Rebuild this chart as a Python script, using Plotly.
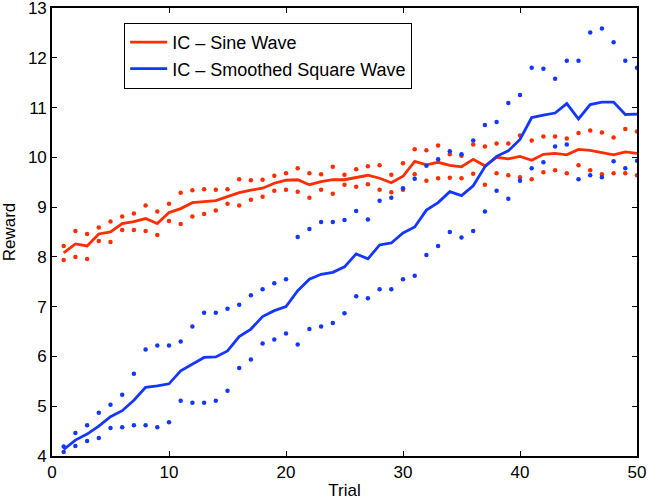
import plotly.graph_objects as go

trials = list(range(1, 51))

red_mean = [8.08, 8.26, 8.22, 8.46, 8.50, 8.67, 8.71, 8.77, 8.67, 8.89,
            8.97, 9.09, 9.11, 9.13, 9.21, 9.29, 9.34, 9.38, 9.48, 9.54,
            9.55, 9.45, 9.51, 9.55, 9.55, 9.59, 9.64, 9.58, 9.49, 9.62,
            9.92, 9.85, 9.90, 9.84, 9.81, 9.96, 9.83, 10.00, 9.97, 10.02,
            9.94, 10.06, 10.08, 10.05, 10.16, 10.14, 10.09, 10.05, 10.11, 10.08]
red_upper = [8.22, 8.52, 8.46, 8.59, 8.71, 8.81, 8.87, 9.03, 8.91, 9.07,
             9.29, 9.34, 9.36, 9.35, 9.36, 9.56, 9.54, 9.55, 9.63, 9.68,
             9.78, 9.68, 9.66, 9.81, 9.65, 9.76, 9.82, 9.84, 9.65, 9.88,
             10.16, 10.14, 10.24, 10.06, 10.03, 10.26, 10.22, 10.28, 10.28, 10.44,
             10.34, 10.42, 10.42, 10.38, 10.49, 10.54, 10.50, 10.40, 10.57, 10.52]
red_lower = [7.94, 8.00, 7.96, 8.32, 8.30, 8.54, 8.54, 8.52, 8.44, 8.72,
             8.66, 8.81, 8.86, 8.93, 9.07, 9.03, 9.15, 9.21, 9.33, 9.35,
             9.31, 9.19, 9.35, 9.27, 9.45, 9.41, 9.46, 9.35, 9.30, 9.35,
             9.66, 9.53, 9.58, 9.59, 9.58, 9.67, 9.45, 9.68, 9.64, 9.60,
             9.56, 9.70, 9.74, 9.68, 9.84, 9.74, 9.66, 9.68, 9.68, 9.64]

blue_mean = [4.13, 4.32, 4.44, 4.60, 4.79, 4.91, 5.12, 5.38, 5.41, 5.45,
             5.71, 5.85, 5.98, 5.99, 6.11, 6.40, 6.55, 6.80, 6.92, 7.00,
             7.32, 7.55, 7.65, 7.69, 7.80, 8.06, 7.96, 8.24, 8.28, 8.48,
             8.60, 8.94, 9.09, 9.31, 9.23, 9.43, 9.81, 10.02, 10.13, 10.36,
             10.80, 10.85, 10.89, 11.08, 10.77, 11.06, 11.11, 11.11, 10.86, 10.87]
blue_upper = [4.19, 4.46, 4.62, 4.87, 5.03, 5.23, 5.65, 6.14, 6.22, 6.22,
              6.30, 6.60, 6.88, 6.88, 6.96, 7.04, 7.23, 7.35, 7.47, 7.55,
              8.40, 8.56, 8.70, 8.70, 8.74, 8.92, 8.75, 9.13, 9.19, 9.38,
              9.57, 9.83, 9.96, 10.12, 10.06, 10.34, 10.65, 10.71, 11.09, 11.25,
              11.80, 11.78, 11.58, 11.94, 11.94, 12.51, 12.59, 12.31, 11.94, 11.80]
blue_lower = [4.08, 4.20, 4.30, 4.36, 4.56, 4.58, 4.62, 4.62, 4.58, 4.68,
              5.11, 5.07, 5.07, 5.11, 5.31, 5.77, 5.94, 6.26, 6.34, 6.46,
              6.24, 6.55, 6.60, 6.67, 6.87, 7.21, 7.17, 7.35, 7.35, 7.55,
              7.62, 8.04, 8.22, 8.50, 8.39, 8.52, 8.91, 9.33, 9.17, 9.53,
              9.78, 9.90, 10.22, 10.26, 9.56, 9.64, 9.60, 9.92, 9.78, 9.93]

x_ticks = [0, 10, 20, 30, 40, 50]
y_ticks = [4, 5, 6, 7, 8, 9, 10, 11, 12, 13]

RED = "rgb(255,45,0)"
BLUE = "rgb(20,55,255)"
FONT = "Liberation Sans, Arial, Helvetica, sans-serif"

fig = go.Figure()

for ys in (red_upper, red_lower):
    fig.add_trace(go.Scatter(x=trials, y=ys, mode="markers",
                             marker=dict(color=RED, size=4.5),
                             showlegend=False, hoverinfo="skip"))
fig.add_trace(go.Scatter(x=trials, y=red_mean, mode="lines",
                         line=dict(color=RED, width=2.8),
                         name="IC \u2013 Sine Wave"))
for ys in (blue_upper, blue_lower):
    fig.add_trace(go.Scatter(x=trials, y=ys, mode="markers",
                             marker=dict(color=BLUE, size=4.5),
                             showlegend=False, hoverinfo="skip"))
fig.add_trace(go.Scatter(x=trials, y=blue_mean, mode="lines",
                         line=dict(color=BLUE, width=2.8),
                         name="IC \u2013 Smoothed Square Wave"))

axis_common = dict(
    showgrid=False, zeroline=False, automargin=False,
    showline=True, linecolor="black", linewidth=1.6, mirror="ticks",
    ticks="inside", ticklen=5, tickwidth=1, tickcolor="black",
    tickfont=dict(family=FONT, size=17, color="black"),
    ticklabeloverflow="allow",
)

fig.update_layout(
    width=649, height=500,
    margin=dict(l=52, r=12, t=8, b=44),
    paper_bgcolor="white", plot_bgcolor="white",
    font=dict(family=FONT, size=17, color="black"),
    xaxis=dict(range=[0, 50], tickvals=x_ticks,
               title=dict(text="Trial", font=dict(family=FONT, size=17), standoff=6),
               **axis_common),
    yaxis=dict(range=[4, 13], tickvals=y_ticks,
               title=dict(text="Reward", font=dict(family=FONT, size=17), standoff=8),
               **axis_common),
    legend=dict(x=0.123, y=0.967, xanchor="left", yanchor="top",
                bgcolor="white", bordercolor="black", borderwidth=1.2,
                font=dict(family=FONT, size=18, color="black"),
                tracegroupgap=0, itemwidth=37),
    showlegend=True,
)

fig.write_html("out.html")
